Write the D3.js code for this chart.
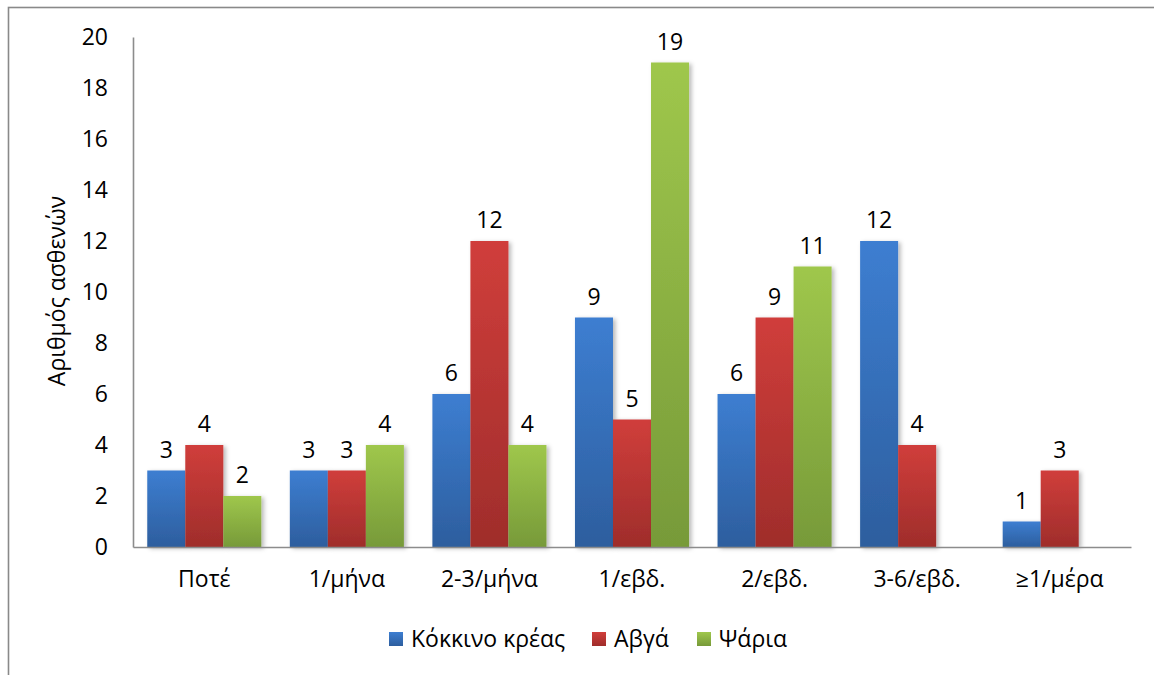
<!DOCTYPE html>
<html><head><meta charset="utf-8">
<script src="https://cdn.jsdelivr.net/npm/d3@7"></script>
<style>body{margin:0;background:#fff}svg{display:block}</style>
</head><body>
<svg id="c" width="1154" height="675"></svg>
<script>
const categories = ["Ποτέ","1/μήνα","2-3/μήνα","1/εβδ.","2/εβδ.","3-6/εβδ.","≥1/μέρα"];
const seriesNames = ["Κόκκινο κρέας","Αβγά","Ψάρια"];
const redMeat = [3,3,6,9,6,12,1];
const eggs = [4,3,12,5,9,4,3];
const fish = [2,4,4,19,11,null,null];
const yTicks = [0,2,4,6,8,10,12,14,16,18,20];
const yTitle = "Αριθμός ασθενών";

const seriesValues = [redMeat, eggs, fish];
const colors = [["#3d7ed1","#2d5e9e"],["#d03e3b","#9f2d2b"],["#9fc74c","#779a39"]];
const font = "'Open Sans', 'Noto Sans', sans-serif";

const svg = d3.select("#c");
const W = 1154, H = 675;
const L = 133, R = 1131, T = 37, B = 547;

const defs = svg.append("defs");
colors.forEach((c,i)=>{
  const g = defs.append("linearGradient").attr("id","g"+i).attr("x1",0).attr("y1",0).attr("x2",0).attr("y2",1);
  g.append("stop").attr("offset","0%").attr("stop-color",c[0]);
  g.append("stop").attr("offset","100%").attr("stop-color",c[1]);
});
const f = defs.append("filter").attr("id","sh").attr("x","-20%").attr("y","-5%").attr("width","150%").attr("height","115%");
f.append("feDropShadow").attr("dx",2.5).attr("dy",1.5).attr("stdDeviation",2).attr("flood-color","#000").attr("flood-opacity",0.28);

// outer frame
svg.append("rect").attr("x",8.5).attr("y",7.5).attr("width",W+20).attr("height",H+20)
  .attr("fill","none").attr("stroke","#898989").attr("stroke-width",1.6);

// Excel-like gap width 75%: bar = step/3.75
const step = (R-L)/categories.length;
const barW = step/3.75;
const xAxisScale = d3.scaleBand().domain(categories).range([L,R]);
const xc = d => xAxisScale(d) + xAxisScale.bandwidth()/2;
const y = d3.scaleLinear().domain([0,20]).range([B,T]);

// y axis
const yAxis = svg.append("g").attr("transform",`translate(${L},0)`)
  .call(d3.axisLeft(y).tickValues(yTicks).tickSize(0).tickPadding(25));
yAxis.select(".domain").attr("stroke","#8c8c8c").attr("stroke-width",1.6);
yAxis.selectAll("text").attr("font-family",font).attr("font-size",23).attr("fill","#000");

// bars
seriesValues.forEach((vals,si)=>{
  const g = svg.append("g").attr("filter","url(#sh)");
  const data = categories.map((c,i)=>({c, v: vals[i]})).filter(d=>d.v!=null);
  g.selectAll("rect").data(data).join("rect")
    .attr("x",d=>xc(d.c) - 1.5*barW + si*barW)
    .attr("y",d=>y(d.v))
    .attr("width",barW)
    .attr("height",d=>y(0)-y(d.v))
    .attr("fill",`url(#g${si})`);
  svg.append("g").selectAll("text").data(data).join("text")
    .attr("x",d=>xc(d.c) - 1.5*barW + si*barW + barW/2)
    .attr("y",d=>y(d.v)-13)
    .attr("text-anchor","middle")
    .attr("font-family",font).attr("font-size",23).attr("fill","#000")
    .text(d=>d.v);
});

// x axis
const xAxis = svg.append("g").attr("transform",`translate(0,${B})`)
  .call(d3.axisBottom(xAxisScale).tickSize(0).tickPadding(24).tickSizeOuter(0));
xAxis.select(".domain").attr("stroke","#8c8c8c").attr("stroke-width",1.6);
xAxis.selectAll("text").attr("font-family",font).attr("font-size",23).attr("fill","#000");

// y title
svg.append("text").attr("transform","translate(65,291) rotate(-90)")
  .attr("text-anchor","middle").attr("font-family",font).attr("font-size",23).attr("fill","#000")
  .text(yTitle);

// legend
const legendX = [389, 592, 697];
seriesNames.forEach((n,i)=>{
  svg.append("rect").attr("x",legendX[i]).attr("y",632).attr("width",14).attr("height",14).attr("fill",`url(#g${i})`);
  svg.append("text").attr("x",legendX[i]+22).attr("y",647).attr("font-family",font).attr("font-size",23).attr("fill","#000").text(n);
});
</script>
</body></html>
